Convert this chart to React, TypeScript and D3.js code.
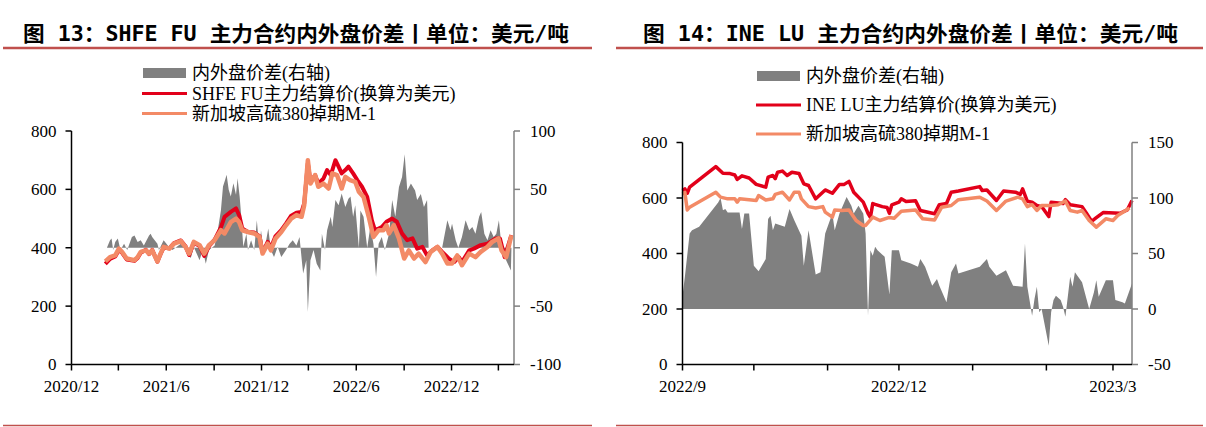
import React from 'react';
import * as d3 from 'd3';

type Pt = [string, number];

// ---------- Figure 13 data (SHFE FU) ----------
const fuSpread: Pt[] = [["2021-02-07",0],["2021-02-13",6.4],["2021-02-16",8],["2021-02-19",-2],["2021-02-23",5],["2021-02-28",8],["2021-03-05",-2],["2021-03-12",3.4],["2021-03-18",-2],["2021-03-27",9.2],["2021-04-01",10.6],["2021-04-07",5],["2021-04-13",6.4],["2021-04-19",2],["2021-04-29",10.6],["2021-05-02",12],["2021-05-05",9.2],["2021-05-15",3.4],["2021-05-18",-2],["2021-05-27",6.4],["2021-06-04",2],["2021-06-13",-2],["2021-06-29",3.4],["2021-07-11",-2],["2021-07-18",-9],["2021-07-24",0.5],["2021-08-04",-10.6],["2021-08-10",-2],["2021-08-16",-13.6],["2021-08-22",-2],["2021-09-02",2],["2021-09-08",15],["2021-09-14",32],["2021-09-18",52.5],["2021-09-22",58],["2021-09-25",62.5],["2021-09-29",49.6],["2021-10-03",43.9],["2021-10-08",55.3],["2021-10-13",45.3],["2021-10-16",59.6],["2021-10-20",43.9],["2021-10-23",26.7],["2021-10-27",0.8],["2021-11-02",12],["2021-11-05",-2],["2021-11-11",6.4],["2021-11-17",-2],["2021-11-22",23.6],["2021-11-27",-2],["2021-11-30",15],["2021-12-05",-2],["2021-12-10",6.4],["2021-12-14",16.4],["2021-12-19",-2],["2021-12-25",-8],["2022-01-01",0.8],["2022-01-08",-8],["2022-01-17",-2],["2022-01-24",3.4],["2022-01-30",6.4],["2022-02-06",2],["2022-02-12",9.2],["2022-02-17",-13.6],["2022-02-19",-22],["2022-02-25",-10.6],["2022-02-28",-55],["2022-03-05",-10.6],["2022-03-11",-2],["2022-03-17",-13.6],["2022-03-24",-19.5],["2022-03-27",12],["2022-04-02",-2],["2022-04-06",15],["2022-04-13",26.5],["2022-04-16",17.8],["2022-04-22",41],["2022-04-28",36.5],["2022-05-04",46.4],["2022-05-11",35],["2022-05-17",42],["2022-05-21",44],["2022-05-26",26.5],["2022-05-30",36.5],["2022-06-06",0],["2022-06-09",32],["2022-06-15",26.5],["2022-06-22",0],["2022-06-28",17.8],["2022-07-04",3.4],["2022-07-09",-25],["2022-07-14",3.4],["2022-07-20",9.2],["2022-07-26",-2],["2022-08-03",12],["2022-08-09",41],["2022-08-15",26.5],["2022-08-22",52],["2022-08-28",60.6],["2022-09-02",80],["2022-09-07",49],["2022-09-14",55],["2022-09-22",49],["2022-09-26",41],["2022-10-03",46],["2022-10-09",35],["2022-10-15",41],["2022-10-18",0],["2022-11-13",0],["2022-11-23",23.6],["2022-11-29",15],["2022-12-02",20.6],["2022-12-09",6.4],["2022-12-14",0],["2022-12-21",9.2],["2022-12-28",23.6],["2023-01-04",15],["2023-01-10",17.8],["2023-01-16",12],["2023-01-23",26.5],["2023-01-27",30.6],["2023-02-02",12],["2023-02-08",6.4],["2023-02-14",15],["2023-02-20",9.2],["2023-02-25",12],["2023-03-02",23.6],["2023-03-07",0.8],["2023-03-13",-8],["2023-03-19",-13.6],["2023-03-25",-19.5],["2023-03-26",-2]];

const fuPrice: Pt[] = [["2021-02-04",345],["2021-02-13",362],["2021-02-23",370],["2021-03-02",392],["2021-03-08",383],["2021-03-17",360],["2021-04-01",355],["2021-04-07",365],["2021-04-13",383],["2021-04-23",393],["2021-04-29",378],["2021-05-05",393],["2021-05-15",352],["2021-05-21",378],["2021-05-27",400],["2021-06-07",398],["2021-06-16",416],["2021-06-29",425],["2021-07-08",405],["2021-07-15",375],["2021-07-24",418],["2021-08-04",406],["2021-08-13",372],["2021-08-22",405],["2021-09-02",428],["2021-09-14",470],["2021-09-21",506],["2021-10-03",523],["2021-10-13",535],["2021-10-19",512],["2021-10-25",466],["2021-11-05",454],["2021-11-17",452],["2021-11-27",440],["2021-12-03",385],["2021-12-13",420],["2021-12-19",400],["2021-12-28",440],["2022-01-08",460],["2022-01-17",483],["2022-01-27",510],["2022-02-06",520],["2022-02-16",523],["2022-02-21",552],["2022-02-28",690],["2022-03-05",626],["2022-03-14",649],["2022-03-20",620],["2022-03-30",637],["2022-04-06",666],["2022-04-13",649],["2022-04-22",700],["2022-04-28",678],["2022-05-04",655],["2022-05-11",666],["2022-05-17",678],["2022-05-26",655],["2022-06-03",632],["2022-06-12",609],["2022-06-22",574],["2022-07-01",494],["2022-07-07",460],["2022-07-20",471],["2022-07-29",489],["2022-08-09",500],["2022-08-18",489],["2022-08-28",449],["2022-09-07",426],["2022-09-17",432],["2022-09-26",397],["2022-10-06",403],["2022-10-15",374],["2022-10-25",391],["2022-11-04",403],["2022-11-13",386],["2022-11-26",363],["2022-12-06",351],["2022-12-15",368],["2022-12-21",351],["2023-01-04",391],["2023-01-13",397],["2023-01-26",409],["2023-02-08",414],["2023-02-24",432],["2023-03-04",432],["2023-03-13",368],["2023-03-26",443]];

const sgPrice13: Pt[] = [["2021-02-04",353],["2021-02-13",368],["2021-02-23",374],["2021-03-02",397],["2021-03-08",386],["2021-03-17",363],["2021-04-01",357],["2021-04-07",368],["2021-04-13",386],["2021-04-23",391],["2021-04-29",380],["2021-05-05",391],["2021-05-15",353],["2021-05-21",380],["2021-05-27",403],["2021-06-07",397],["2021-06-16",414],["2021-06-29",423],["2021-07-08",403],["2021-07-15",380],["2021-07-24",420],["2021-08-04",409],["2021-08-13",380],["2021-08-22",409],["2021-09-02",426],["2021-09-14",460],["2021-09-21",449],["2021-10-03",488],["2021-10-13",500],["2021-10-19",488],["2021-10-25",460],["2021-11-05",454],["2021-11-17",449],["2021-11-27",437],["2021-12-03",380],["2021-12-13",414],["2021-12-19",391],["2021-12-28",432],["2022-01-08",454],["2022-01-17",477],["2022-01-27",500],["2022-02-06",512],["2022-02-16",506],["2022-02-21",546],["2022-02-28",700],["2022-03-05",620],["2022-03-14",649],["2022-03-20",609],["2022-03-30",620],["2022-04-09",603],["2022-04-16",655],["2022-04-25",649],["2022-05-04",603],["2022-05-11",643],["2022-05-20",632],["2022-05-30",626],["2022-06-06",592],["2022-06-15",574],["2022-06-25",506],["2022-07-04",437],["2022-07-14",460],["2022-07-23",460],["2022-07-29",477],["2022-08-03",449],["2022-08-12",477],["2022-08-22",432],["2022-09-01",363],["2022-09-10",391],["2022-09-20",363],["2022-09-29",380],["2022-10-12",351],["2022-10-22",386],["2022-11-04",403],["2022-11-13",380],["2022-11-23",346],["2022-12-02",346],["2022-12-12",374],["2022-12-21",340],["2023-01-04",380],["2023-01-16",368],["2023-01-26",386],["2023-02-08",403],["2023-02-17",420],["2023-03-01",432],["2023-03-07",391],["2023-03-16",368],["2023-03-26",443]];

// ---------- Figure 14 data (INE LU) ----------
const luSpread: Pt[] = [["2022-09-01",12],["2022-09-02",29],["2022-09-04",68],["2022-09-05",71],["2022-09-08",74],["2022-09-16",96],["2022-09-17",100],["2022-09-18",89],["2022-09-19",90],["2022-09-20",87],["2022-09-25",87],["2022-09-26",72],["2022-09-27",86],["2022-09-29",86],["2022-10-01",39],["2022-10-03",34],["2022-10-06",45],["2022-10-07",81],["2022-10-08",84],["2022-10-09",71],["2022-10-10",77],["2022-10-14",74],["2022-10-16",90],["2022-10-18",80],["2022-10-21",66],["2022-10-22",39],["2022-10-24",71],["2022-10-27",31],["2022-10-29",33],["2022-10-31",68],["2022-11-03",86],["2022-11-04",71],["2022-11-06",86],["2022-11-09",101],["2022-11-11",93],["2022-11-12",86],["2022-11-14",93],["2022-11-16",86],["2022-11-17",68],["2022-11-18",-6],["2022-11-19",53],["2022-11-20",48],["2022-11-21",56],["2022-11-22",53],["2022-11-25",47],["2022-11-27",13],["2022-11-28",53],["2022-12-01",53],["2022-12-02",44],["2022-12-06",41],["2022-12-09",38],["2022-12-10",45],["2022-12-12",38],["2022-12-15",21],["2022-12-17",27],["2022-12-18",21],["2022-12-21",6],["2022-12-23",33],["2022-12-25",41],["2022-12-26",32],["2023-01-04",38],["2023-01-07",45],["2023-01-08",38],["2023-01-11",30],["2023-01-15",35],["2023-01-18",21],["2023-01-22",20],["2023-01-23",59],["2023-01-24",20],["2023-01-26",-6],["2023-01-27",9],["2023-01-28",20],["2023-01-29",-3],["2023-01-30",0],["2023-02-02",-33],["2023-02-03",-3],["2023-02-04",8],["2023-02-05",12],["2023-02-07",8],["2023-02-08",2],["2023-02-09",-7],["2023-02-11",29],["2023-02-12",20],["2023-02-13",33],["2023-02-16",24],["2023-02-19",0],["2023-02-21",15],["2023-02-22",26],["2023-02-23",11],["2023-02-26",26],["2023-03-01",26],["2023-03-02",8],["2023-03-05",6],["2023-03-06",5],["2023-03-09",23]];

const luPrice: Pt[] = [["2022-09-01",627],["2022-09-02",633],["2022-09-03",617],["2022-09-04",639],["2022-09-15",713],["2022-09-18",689],["2022-09-21",688],["2022-09-23",683],["2022-09-24",667],["2022-09-26",680],["2022-09-29",672],["2022-10-02",649],["2022-10-06",639],["2022-10-07",675],["2022-10-09",681],["2022-10-10",670],["2022-10-11",693],["2022-10-13",697],["2022-10-15",681],["2022-10-17",693],["2022-10-20",688],["2022-10-22",651],["2022-10-24",645],["2022-10-27",597],["2022-10-31",629],["2022-11-03",617],["2022-11-06",649],["2022-11-08",649],["2022-11-10",660],["2022-11-12",621],["2022-11-14",603],["2022-11-16",585],["2022-11-18",545],["2022-11-19",530],["2022-11-20",580],["2022-11-21",577],["2022-11-24",569],["2022-11-26",566],["2022-11-27",545],["2022-11-28",575],["2022-12-01",585],["2022-12-02",597],["2022-12-04",587],["2022-12-08",590],["2022-12-10",555],["2022-12-16",543],["2022-12-18",576],["2022-12-21",580],["2022-12-23",621],["2022-12-26",625],["2023-01-04",641],["2023-01-05",627],["2023-01-07",629],["2023-01-11",591],["2023-01-14",625],["2023-01-19",621],["2023-01-21",613],["2023-01-22",633],["2023-01-24",588],["2023-01-26",585],["2023-01-28",573],["2023-01-30",569],["2023-02-02",533],["2023-02-03",585],["2023-02-08",580],["2023-02-09",594],["2023-02-11",576],["2023-02-16",569],["2023-02-18",543],["2023-02-20",516],["2023-02-22",529],["2023-02-25",548],["2023-03-04",545],["2023-03-07",557],["2023-03-09",591]];

const sgPrice14: Pt[] = [["2022-09-01",615],["2022-09-02",620],["2022-09-03",557],["2022-09-04",567],["2022-09-15",621],["2022-09-17",603],["2022-09-20",597],["2022-09-23",597],["2022-09-24",585],["2022-09-25",597],["2022-10-02",591],["2022-10-03",609],["2022-10-06",593],["2022-10-09",597],["2022-10-10",613],["2022-10-13",621],["2022-10-16",593],["2022-10-18",621],["2022-10-20",621],["2022-10-21",597],["2022-10-24",569],["2022-10-27",564],["2022-10-30",569],["2022-10-31",549],["2022-11-03",531],["2022-11-04",557],["2022-11-07",555],["2022-11-10",557],["2022-11-13",519],["2022-11-16",501],["2022-11-17",501],["2022-11-20",531],["2022-11-23",519],["2022-11-27",530],["2022-11-29",527],["2022-12-02",552],["2022-12-08",557],["2022-12-11",525],["2022-12-16",521],["2022-12-19",567],["2022-12-23",573],["2022-12-26",594],["2023-01-04",603],["2023-01-07",589],["2023-01-11",555],["2023-01-15",589],["2023-01-20",603],["2023-01-22",597],["2023-01-24",569],["2023-01-26",576],["2023-01-28",555],["2023-01-30",573],["2023-02-03",573],["2023-02-06",576],["2023-02-09",589],["2023-02-11",555],["2023-02-14",549],["2023-02-16",555],["2023-02-19",519],["2023-02-22",495],["2023-02-26",525],["2023-03-01",519],["2023-03-03",537],["2023-03-08",564]];

// ---------- labels / ticks ----------
const title13 = "图 13：SHFE FU 主力合约内外盘价差丨单位：美元/吨";
const title14 = "图 14：INE LU 主力合约内外盘价差丨单位：美元/吨";
const legend13 = ["内外盘价差(右轴)", "SHFE FU主力结算价(换算为美元)", "新加坡高硫380掉期M-1"];
const legend14 = ["内外盘价差(右轴)", "INE LU主力结算价(换算为美元)", "新加坡高硫380掉期M-1"];
const leftTicks13 = [0, 200, 400, 600, 800];
const rightTicks13 = [-100, -50, 0, 50, 100];
const leftTicks14 = [0, 200, 400, 600, 800];
const rightTicks14 = [-50, 0, 50, 100, 150];

const RED = "#E2001A";
const ORANGE = "#F38A66";
const GRAY = "#808080";
const RULE = "#C0504D";
const SERIF = "'Liberation Serif', 'Times New Roman', 'Noto Sans CJK SC', serif";
const TITLE_FONT = "'DejaVu Sans Mono', 'Noto Sans CJK SC', sans-serif";

const parse = d3.timeParse('%Y-%m-%d');

type PanelProps = {
  title: string; titleX: number; titleW: number;
  ruleX0: number; ruleX1: number;
  legend: string[]; legX: number; legY: number[];
  x0: number; x1: number; yTop: number; yBot: number;
  xDomain: [string, string]; tickStep: number; labelEvery: number;
  lDomain: [number, number]; lTicks: number[];
  rDomain: [number, number]; rTicks: number[]; rLabelX: number;
  spread: Pt[]; red: Pt[]; orange: Pt[];
  redW: number; orangeW: number;
};

function Panel(p: PanelProps) {
  const start = parse(p.xDomain[0])!;
  const end = parse(p.xDomain[1])!;
  const x = d3.scaleTime().domain([start, end]).range([p.x0, p.x1]);
  const yL = d3.scaleLinear().domain(p.lDomain).range([p.yBot, p.yTop]);
  const yR = d3.scaleLinear().domain(p.rDomain).range([p.yBot, p.yTop]);
  const area = d3.area<Pt>().x(d => x(parse(d[0])!)).y0(yR(0)).y1(d => yR(d[1]));
  const lineL = d3.line<Pt>().x(d => x(parse(d[0])!)).y(d => yL(d[1]));
  const ticks = d3.timeMonth.range(start, d3.timeDay.offset(end, 1), p.tickStep);
  const fmt = d3.timeFormat('%Y/%-m');
  const legFont = 18;
  return (
    <g>
      <text x={p.titleX} y={41} fontFamily={TITLE_FONT} fontWeight="bold" fontSize={21}
        textLength={p.titleW} lengthAdjust="spacingAndGlyphs" fill="#000">{p.title}</text>
      <line x1={p.ruleX0} x2={p.ruleX1} y1={48} y2={48} stroke={RULE} strokeWidth={2.5} />
      <line x1={p.ruleX0} x2={p.ruleX1} y1={425.5} y2={425.5} stroke={RULE} strokeWidth={1.5} />

      {/* legend */}
      <rect x={p.legX} y={p.legY[0] - 5} width={43} height={10} fill={GRAY} />
      <line x1={p.legX - 1} x2={p.legX + 44} y1={p.legY[1]} y2={p.legY[1]} stroke={RED} strokeWidth={3} />
      <line x1={p.legX - 1} x2={p.legX + 44} y1={p.legY[2]} y2={p.legY[2]} stroke={ORANGE} strokeWidth={3} />
      {p.legend.map((t, i) => (
        <text key={i} x={p.legX + 49} y={p.legY[i]} dy="0.35em" fontFamily={SERIF} fontSize={legFont} fill="#000">{t}</text>
      ))}

      {/* series */}
      <path d={area(p.spread) || ''} fill={GRAY} />
      <path d={lineL(p.red) || ''} fill="none" stroke={RED} strokeWidth={p.redW} strokeLinejoin="round" />
      <path d={lineL(p.orange) || ''} fill="none" stroke={ORANGE} strokeWidth={p.orangeW} strokeLinejoin="round" />

      {/* axes */}
      <line x1={p.x0} x2={p.x0} y1={p.yTop} y2={p.yBot} stroke="#000" strokeWidth={1.5} />
      <line x1={p.x1} x2={p.x1} y1={p.yTop} y2={p.yBot} stroke={GRAY} strokeWidth={1.5} />
      <line x1={p.x0} x2={p.x1} y1={p.yBot} y2={p.yBot} stroke="#000" strokeWidth={1.5} />
      {p.lTicks.map(v => (
        <g key={'l' + v}>
          <line x1={p.x0 - 6} x2={p.x0} y1={yL(v)} y2={yL(v)} stroke="#000" strokeWidth={1.5} />
          <text x={p.x0 - 15} y={yL(v)} dy="0.35em" textAnchor="end" fontFamily={SERIF} fontSize={17} fill="#000">{v}</text>
        </g>
      ))}
      {p.rTicks.map(v => (
        <g key={'r' + v}>
          <line x1={p.x1} x2={p.x1 + 6} y1={yR(v)} y2={yR(v)} stroke={GRAY} strokeWidth={1.5} />
          <text x={p.rLabelX} y={yR(v)} dy="0.35em" textAnchor="start" fontFamily={SERIF} fontSize={17} fill="#000">{v}</text>
        </g>
      ))}
      {ticks.map((t, i) => (
        <g key={'x' + i}>
          <line x1={x(t)} x2={x(t)} y1={p.yBot} y2={p.yBot + 6} stroke="#000" strokeWidth={1.5} />
          {i % p.labelEvery === 0 && (
            <text x={x(t)} y={392} textAnchor="middle" fontFamily={SERIF} fontSize={17} fill="#000">{fmt(t)}</text>
          )}
        </g>
      ))}
    </g>
  );
}

export default function App() {
  return (
    <svg width={1206} height={427} style={{ position: 'absolute', left: 0, top: 0, background: '#fff' }}>
      <rect width={1206} height={427} fill="#fff" />
      <Panel title={title13} titleX={23} titleW={546} ruleX0={3} ruleX1={592}
        legend={legend13} legX={143} legY={[73, 93.5, 113.5]}
        x0={71.5} x1={514} yTop={131} yBot={364.5}
        xDomain={["2020-12-01", "2023-03-31"]} tickStep={3} labelEvery={2}
        lDomain={[0, 800]} lTicks={leftTicks13}
        rDomain={[-100, 100]} rTicks={rightTicks13} rLabelX={530}
        spread={fuSpread} red={fuPrice} orange={sgPrice13} redW={4} orangeW={4.5} />
      <Panel title={title14} titleX={643} titleW={535} ruleX0={616} ruleX1={1203}
        legend={legend14} legX={757} legY={[76, 105, 134]}
        x0={682.5} x1={1132} yTop={142.5} yBot={364.5}
        xDomain={["2022-09-01", "2023-03-09"]} tickStep={1} labelEvery={3}
        lDomain={[0, 800]} lTicks={leftTicks14}
        rDomain={[-50, 150]} rTicks={rightTicks14} rLabelX={1148}
        spread={luSpread} red={luPrice} orange={sgPrice14} redW={3.5} orangeW={3.5} />
    </svg>
  );
}
